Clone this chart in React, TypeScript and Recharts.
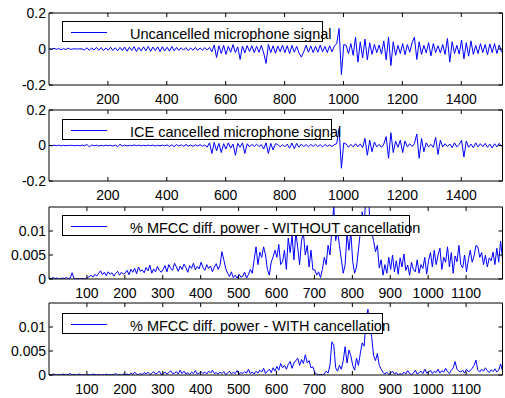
import { LineChart, Line, XAxis, YAxis, Legend } from 'recharts';

// sample spacing of the stored points
const SIG_STEP = 8;
const MFCC_STEP = 5;
const SIG_UNIT = 0.001;
const MFCC_UNIT = 0.0001;

// microphone signals, in units of 0.001
const uncancelled = [
  2, -3, 4, -2, 3, -4, 2, -3, 5, -2,
  0, 1, 0, 1, 0,
  -5, 7, -8, 6, -6, 9, -7, 8, -9, 6, -7, 10, -8, 7, -10, 9,
  -9, 11, -12, 10, -8, 13, -14, 9, -11, 12, -10, 14, -13, 11, -9, 12, -15, 13, -11, 10, -12, 14, -10, 9, -8,
  7, -6, 8, -9, 6, -7, 9, -8, 6, -7, 8, -6, 9,
  -15, 22, -47, 18, -25, 20, -30, 15, -18, 24, -20, 12, -58, 16, -22, 19, -14, 18, -20,
  15, -18, 20, -22, -80, 25, -20, 18, -24, 16, -15, 22, -20, 18, -26, 20, -18, 15, -22, -45, -16, 21, -18,
  17, -20, 15, -18, 22, -16, 14, -20, 18, -15, 16,
  30, 114, -142, 25,
  20, -25, 30, -35, 66, -73, 40, -50, 55, -60, 35, -30, 25, -20, 22, -28, 45, -60, 66, -92,
  40, -35, 20, -25, 30, -32, 25, -18, 35, 66, -58, 40, -30, 20, -22, 35, -38, 30, -20, 18,
  -22, 25, -30, 58, -73, 40, -25, 20, -28, 50, -55, 35, -40, 45, -30, 20, -25, 30, -20, 25,
  -32, 28, -20, 30, -25, 22, -18,
];

const iceCancelled = [
  1, -2, 2, -1, 2, -2, 1, -1, 0, 1, 0, -1, 1, -2, 2, -1, 6, -8, 3, -2,
  2, -3, 1, -2, 2, -1, 1, -3, 2, -6, 7, -3, 2, -2, 1, -2, 3, -1, 2, -2,
  1, -2, 2, -1, 2, -3, 1, -2, 2, -1,
  3, -5, 4, -6, 5, -3, 4, -5, 6, -4, 3, -5, 4, -3, 5, -4, 3,
  -10, 15, -45, 18, -30, 12, -40, 10, -20, 15, -15, 8, -55, 12,
  -10, 15, -45, 10, -8, 6, -5, 8, -6, 5,
  -20, 15, -45, 12, -25, 10,
  6, -8, 5, -7, 8, -15, 14, -18, 12, -10, 8, -6, 5, -7, 6, -5, 7, -6, 5, -8, 6, -5, 4, -6, 5,
  10, 95, -128, 15,
  8, -10, 6, -8, 10, -7, 9, -12,
  40, -55, 30, -35, 20,
  -8, 6, -10, 8,
  50, -72, 72, -40, 25,
  -10,
  30, -40, 25,
  -8, 10, -6, 12,
  65, -72, 40, -35, 15,
  -8, 6, -10,
  45, -50, 30,
  -8, 10, -6, 8, -12, 15, -8, 6,
  30, -65, 25,
  -10, 8, -12, 15, -8, 10, -6, 12, -10, 8, -14, 10, -8, 12, -6,
];

// % MFCC diff. power, in units of 0.0001
const mfccWithout = [
  2, 1, 3, 1, 2, 0, 1, 2, 1, 3, 1, 2,
  13,
  1, 0, 1, 0, 1, 1, 0,
  3, 5, 8, 4, 10, 6, 12, 17, 9, 14, 7, 15, 10, 13, 6, 12, 16, 8, 14, 10,
  12, 18, 9, 20, 14, 22, 11, 25, 16, 19, 13, 24, 17, 29, 12, 21, 15, 26, 18, 14,
  20, 28, 15, 30, 22, 18, 33, 25, 16, 27, 20, 31, 24, 14, 28, 22, 33, 19, 26, 21,
  35, 24, 18, 30, 22, 27, 15, 25, 32, 20, 28, 57, 40, 22,
  12, 5, 15, 3, 8, 2, 10, 4, 6, 14, 2, 9, 20, 12,
  40, 67, 30, 56, 45, 67, 50, 20, 8, 35, 46, 60,
  45, 72, 30, 36, 60, 20, 85, 55, 90, 40, 98, 65, 30, 81, 95, 50, 70, 25, 60, 19,
  19, 8, 15, 3, 20, 45, 30, 70, 50, 102, 154, 80, 100, 70, 40, 12, 30, 96, 60, 98,
  36, 12, 25, 60, 98, 140, 110, 175, 202, 120, 98, 80, 57, 70, 23, 40, 8, 30, 12, 45,
  20, 50, 15, 38, 10, 44, 25, 52, 18, 29, 8, 35, 20, 15, 40, 12, 30, 22, 45, 10,
  38, 55, 25, 60, 30, 50, 64, 20, 45, 35, 67, 25, 55, 12, 48, 36, 70, 30, 23, 50,
  15, 40, 60, 35, 48, 70, 67, 45, 55, 30, 50, 25, 44, 38, 56, 30, 64, 35, 79, 42,
];

const mfccWith = [
  1, 0, 2, 1, 0, 1, 0, 2, 1, 0, 1, 3, 0, 1, 0, 1, 2, 0, 1, 0,
  0, 1, 0, 2, 1, 0, 1, 0, 1, 0, 2, 0, 1, 0, 1, 3, 0, 1, 0, 2,
  1, 2, 0, 4, 1, 6, 2, 0, 3, 1, 5, 2, 6, 1, 3, 7, 2, 4, 8, 1,
  3, 6, 2, 5, 9, 3, 4, 7, 2, 10,
  3, 8, 2, 5, 1, 6, 3, 9, 2, 4, 7, 3, 6, 2, 8, 4, 10, 3, 5, 2,
  6, 3, 7, 1, 4, 8, 2, 6, 3, 9, 2, 5, 3, 7, 4, 12, 3, 6, 2, 8,
  4, 10, 6, 14, 3, 8, 12, 5, 15, 8,
  18, 10, 24, 15, 20, 12, 22, 28, 14, 25, 30, 35, 20, 32, 24, 42, 25, 30, 15, 17,
  5, 2, 0, 1, 0, 2, 8, 4, 20,
  69, 62, 15, 8, 20, 12,
  30, 59, 25, 52, 40, 20,
  10, 35, 20,
  45, 67, 60, 110, 137, 100, 80, 40,
  30, 45, 20, 12, 5,
  2, 6, 1, 4, 8, 2, 5, 0, 3, 1, 6, 2, 9, 3, 1, 4, 10, 2, 5, 8, 3, 12, 4,
  6, 10, 3, 8, 5, 12, 4, 9, 6, 14, 7, 3, 10, 15, 28, 12, 8, 6, 10, 4,
  12, 7, 9, 14, 20, 31, 10, 6, 12, 8, 15, 9, 5, 11, 7, 13, 6, 10, 23, 9,
];

const sigXTicks = [200, 400, 600, 800, 1000, 1200, 1400];
const mfccXTicks = [100, 200, 300, 400, 500, 600, 700, 800, 900, 1000, 1100];
const sigYTicks = [-0.2, 0, 0.2];
const mfccYTicks = [0, 0.005, 0.01];

const toRows = (vals: number[], step: number, unit: number) =>
  vals.map((v, i) => ({ n: 1 + i * step, v: v * unit }));

interface PanelProps {
  rows: { n: number; v: number }[];
  xMax: number;
  xTicks: number[];
  yDomain: [number, number];
  yTicks: number[];
  top: number;
  bottom: number;
  label: string;
  boxTop: number;
  boxWidth: number;
}

function LegendBox({ label, width }: { label: string; width: number }) {
  return (
    <div
      style={{
        position: 'relative',
        width,
        height: 21,
        boxSizing: 'border-box',
        background: '#fff',
        border: '1px solid #000',
      }}
    >
      <div style={{ position: 'absolute', left: 8, top: 10, width: 36, borderTop: '1px solid #0000ff' }} />
      <span
        style={{
          position: 'absolute',
          left: 67,
          top: 5,
          fontSize: 14.5,
          lineHeight: '14.5px',
          whiteSpace: 'nowrap',
          color: '#000',
        }}
      >
        {label}
      </span>
    </div>
  );
}

// axes are 1px thick/wide so they still render; margins compensate
function Panel({ rows, xMax, xTicks, yDomain, yTicks, top, bottom, label, boxTop, boxWidth }: PanelProps) {
  const axis = { stroke: '#000' };
  const tick = { fill: '#000', fontSize: 14 };
  const blank = () => '';
  return (
    <div style={{ position: 'absolute', left: 0, top: 0 }}>
      <LineChart
        width={505}
        height={398}
        data={rows}
        margin={{ top: top - 1, bottom: 398 - bottom - 1, left: 48, right: 1.5 }}
      >
        <XAxis
          dataKey="n"
          type="number"
          domain={[0, xMax]}
          ticks={xTicks}
          interval={0}
          height={1}
          tickSize={-4}
          tickMargin={13}
          axisLine={axis}
          tickLine={axis}
          tick={tick}
        />
        <XAxis
          xAxisId="top"
          dataKey="n"
          orientation="top"
          type="number"
          domain={[0, xMax]}
          ticks={xTicks}
          interval={0}
          height={1}
          tickSize={-4}
          axisLine={axis}
          tickLine={axis}
          tickFormatter={blank}
        />
        <YAxis
          type="number"
          domain={yDomain}
          ticks={yTicks}
          interval={0}
          width={1}
          tickSize={-4}
          tickMargin={7}
          allowDataOverflow
          axisLine={axis}
          tickLine={axis}
          tick={tick}
        />
        <YAxis
          yAxisId="right"
          orientation="right"
          type="number"
          domain={yDomain}
          ticks={yTicks}
          interval={0}
          width={1}
          tickSize={-4}
          allowDataOverflow
          axisLine={axis}
          tickLine={axis}
          tickFormatter={blank}
        />
        <Legend
          verticalAlign="middle"
          layout="horizontal"
          wrapperStyle={{ left: 62, top: boxTop, width: boxWidth, height: 21 }}
          content={() => <LegendBox label={label} width={boxWidth} />}
        />
        <Line
          type="linear"
          dataKey="v"
          stroke="#0000ff"
          strokeWidth={1}
          dot={false}
          isAnimationActive={false}
        />
      </LineChart>
    </div>
  );
}

export default function App() {
  return (
    <div
      className="mat"
      style={{
        position: 'absolute',
        left: 0,
        top: 0,
        width: 505,
        height: 398,
        background: '#fff',
        fontFamily: '"Liberation Sans", Arial, Helvetica, sans-serif',
      }}
    >
      <style>{`.mat svg { overflow: visible; } .mat .recharts-line { clip-path: none; }`}</style>
      <Panel
        rows={toRows(uncancelled, SIG_STEP, SIG_UNIT)}
        xMax={1540}
        xTicks={sigXTicks}
        yDomain={[-0.2, 0.2]}
        yTicks={sigYTicks}
        top={13}
        bottom={85}
        label="Uncancelled microphone signal"
        boxTop={21}
        boxWidth={261}
      />
      <Panel
        rows={toRows(iceCancelled, SIG_STEP, SIG_UNIT)}
        xMax={1540}
        xTicks={sigXTicks}
        yDomain={[-0.2, 0.2]}
        yTicks={sigYTicks}
        top={110}
        bottom={181}
        label="ICE cancelled microphone signal"
        boxTop={119}
        boxWidth={270}
      />
      <Panel
        rows={toRows(mfccWithout, MFCC_STEP, MFCC_UNIT)}
        xMax={1196}
        xTicks={mfccXTicks}
        yDomain={[0, 0.015]}
        yTicks={mfccYTicks}
        top={207}
        bottom={279}
        label="% MFCC diff. power - WITHOUT cancellation"
        boxTop={215}
        boxWidth={348}
      />
      <Panel
        rows={toRows(mfccWith, MFCC_STEP, MFCC_UNIT)}
        xMax={1196}
        xTicks={mfccXTicks}
        yDomain={[0, 0.015]}
        yTicks={mfccYTicks}
        top={303}
        bottom={375}
        label="% MFCC diff. power - WITH cancellation"
        boxTop={313}
        boxWidth={321}
      />
    </div>
  );
}
